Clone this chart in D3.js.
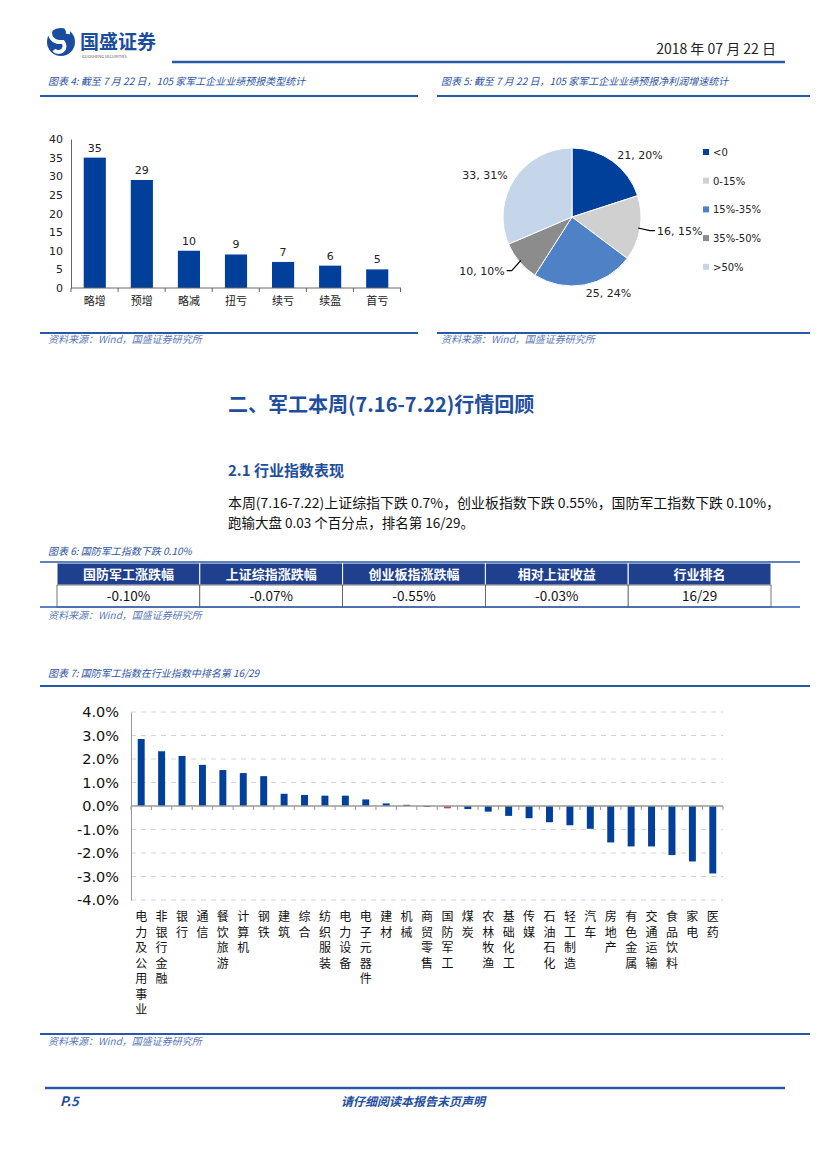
<!DOCTYPE html>
<html>
<head>
<meta charset="utf-8">
<script src="https://cdn.jsdelivr.net/npm/d3@7"></script>
<style>
body { margin: 0; background: #fff; }
text { font-family: "Noto Sans CJK SC", "DejaVu Sans", sans-serif; }
.cap { font-size: 10px; fill: #2d55a5; font-style: italic; }
.src { font-size: 10px; fill: #5a78b8; font-style: italic; }
.num { font-family: "DejaVu Sans", sans-serif; }
</style>
</head>
<body>
<div id="container"></div>
<script>
// chart 4: forecast types
var typeCats = ["略增", "预增", "略减", "扭亏", "续亏", "续盈", "首亏"];
var typeCounts = [35, 29, 10, 9, 7, 6, 5];
var typeTicks = [0, 5, 10, 15, 20, 25, 30, 35, 40];

// chart 5: profit growth buckets
var growthCats = ["<0", "0-15%", "15%-35%", "35%-50%", ">50%"];
var growthCounts = [21, 16, 25, 10, 33];
var growthPct = ["20%", "15%", "24%", "10%", "31%"];
var growthColors = ["#003f9a", "#d0d0d0", "#4f81c7", "#8c8c8c", "#c5d5ea"];

// chart 6: table
var tableHead = ["国防军工涨跌幅", "上证综指涨跌幅", "创业板指涨跌幅", "相对上证收益", "行业排名"];
var tableVals = ["-0.10%", "-0.07%", "-0.55%", "-0.03%", "16/29"];

// chart 7: industry index change (%)
var industries = ["电力及公用事业", "非银行金融", "银行", "通信", "餐饮旅游", "计算机", "钢铁", "建筑", "综合",
  "纺织服装", "电力设备", "电子元器件", "建材", "机械", "商贸零售", "国防军工", "煤炭", "农林牧渔", "基础化工",
  "传媒", "石油石化", "轻工制造", "汽车", "房地产", "有色金属", "交通运输", "食品饮料", "家电", "医药"];
var industryChg = [2.85, 2.33, 2.13, 1.75, 1.53, 1.40, 1.27, 0.52, 0.47, 0.44, 0.44, 0.28, 0.11, 0.05, -0.04,
  -0.10, -0.13, -0.24, -0.42, -0.52, -0.69, -0.82, -0.97, -1.55, -1.72, -1.72, -2.09, -2.36, -2.87];
var chgTicks = [-4, -3, -2, -1, 0, 1, 2, 3, 4];

var blue = "#003f9a";
var lineBlue = "#2a58a8";

const svg = d3.select("#container")
              .append("svg")
              .attr("width", 827)
              .attr("height", 1169);

// ---------- header ----------
var logo = svg.append("g").attr("transform", "translate(61,42)");
logo.append("circle").attr("r", 14).attr("fill", "#1b4d9f");
logo.append("path")
    .attr("d", "M7,-8 A9,9 0 1 0 -2,0 L2,0 A5,5 0 1 1 -7,8")
    .attr("fill", "none").attr("stroke", "#fff").attr("stroke-width", 4);
svg.append("text").attr("x", 80).attr("y", 49)
   .style("font-size", "19px").style("font-weight", "bold").attr("fill", "#1b4d9f")
   .text("国盛证券");
svg.append("text").attr("x", 82).attr("y", 58)
   .style("font-size", "4px").attr("fill", "#555")
   .text("GUOSHENG SECURITIES");
svg.append("text").attr("x", 776).attr("y", 54).attr("text-anchor", "end")
   .style("font-size", "14px").attr("fill", "#222")
   .text("2018 年 07 月 22 日");
svg.append("line").attr("x1", 172).attr("x2", 785).attr("y1", 62).attr("y2", 62)
   .attr("stroke", lineBlue).attr("stroke-width", 2.5);

// captions and rules
function caption(x, y, t) {
    svg.append("text").attr("class", "cap").attr("x", x).attr("y", y).text(t);
}
function rule(x1, x2, y, w) {
    svg.append("line").attr("x1", x1).attr("x2", x2).attr("y1", y).attr("y2", y)
       .attr("stroke", lineBlue).attr("stroke-width", w || 2);
}
function source(x, y) {
    svg.append("text").attr("class", "src").attr("x", x).attr("y", y).text("资料来源：Wind，国盛证券研究所");
}

caption(48, 85, "图表 4:  截至 7 月 22 日，105 家军工企业业绩预报类型统计");
caption(441, 85, "图表 5:  截至 7 月 22 日，105 家军工企业业绩预报净利润增速统计");
rule(40, 418, 96);
rule(437, 810, 96);
rule(40, 418, 333);
rule(437, 810, 333);
source(48, 343);
source(441, 343);

// ---------- chart 4: bar chart ----------
var x1 = d3.scaleBand().domain(typeCats).range([71, 401]).paddingInner(0.53).paddingOuter(0.27);
var y1 = d3.scaleLinear().domain([0, 40]).range([288, 139]);

var g1 = svg.append("g");
g1.append("g")
  .attr("transform", "translate(71,0)")
  .call(d3.axisLeft(y1).tickValues(typeTicks).tickSize(0).tickPadding(8))
  .call(g => g.select(".domain").attr("stroke", "#666"))
  .call(g => g.selectAll("text").attr("class", "num").style("font-size", "11px").attr("fill", "#222"));

g1.selectAll("rect.b1")
  .data(typeCounts)
  .enter()
  .append("rect")
  .attr("class", "b1")
  .attr("x", (d, i) => x1(typeCats[i]))
  .attr("y", d => y1(d))
  .attr("width", x1.bandwidth())
  .attr("height", d => y1(0) - y1(d))
  .attr("fill", blue);

g1.selectAll("text.v1")
  .data(typeCounts)
  .enter()
  .append("text")
  .attr("class", "num")
  .attr("x", (d, i) => x1(typeCats[i]) + x1.bandwidth() / 2)
  .attr("y", d => y1(d) - 6)
  .attr("text-anchor", "middle")
  .style("font-size", "11px")
  .attr("fill", "#222")
  .text(d => d);

g1.append("line").attr("x1", 71).attr("x2", 401).attr("y1", y1(0)).attr("y2", y1(0)).attr("stroke", "#666");
g1.selectAll("line.t1")
  .data(d3.range(typeCats.length + 1))
  .enter()
  .append("line")
  .attr("x1", i => 71 + i * x1.step())
  .attr("x2", i => 71 + i * x1.step())
  .attr("y1", y1(0)).attr("y2", y1(0) + 4)
  .attr("stroke", "#666");

g1.selectAll("text.c1")
  .data(typeCats)
  .enter()
  .append("text")
  .attr("x", d => x1(d) + x1.bandwidth() / 2)
  .attr("y", 305)
  .attr("text-anchor", "middle")
  .style("font-size", "11px")
  .attr("fill", "#222")
  .text(d => d);

// ---------- chart 5: pie ----------
var cx = 572, cy = 217, r = 69;
var pie = d3.pie().sort(null).value(d => d);
var arcs = pie(growthCounts);
var arc = d3.arc().innerRadius(0).outerRadius(r);
var g2 = svg.append("g").attr("transform", "translate(" + cx + "," + cy + ")");

g2.selectAll("path")
  .data(arcs)
  .enter()
  .append("path")
  .attr("d", arc)
  .attr("fill", (d, i) => growthColors[i])
  .attr("stroke", "#fff")
  .attr("stroke-width", 1);

arcs.forEach(function (a, i) {
    var mid = (a.startAngle + a.endAngle) / 2;
    var sx = Math.sin(mid), sy = -Math.cos(mid);
    var right = sx > 0;
    var lr = r + 8;
    var tx = lr * sx, ty = lr * sy;
    if (growthCounts[i] <= 16) {
        // leader line with elbow
        var ex = (r + 10) * sx, ey = (r + 14) * sy;
        var hx = ex + (right ? 5 : -5);
        g2.append("path")
          .attr("d", "M" + (r - 2) * sx + "," + (r - 2) * sy + " L" + ex + "," + ey + " L" + hx + "," + ey)
          .attr("fill", "none").attr("stroke", "#000").attr("stroke-width", 1.2);
        tx = hx + (right ? 2 : -2);
        ty = ey;
    }
    g2.append("text")
      .attr("class", "num")
      .attr("x", tx)
      .attr("y", ty + 4)
      .attr("text-anchor", right ? "start" : "end")
      .style("font-size", "11px")
      .attr("fill", "#222")
      .text(growthCounts[i] + ", " + growthPct[i]);
});

var leg = svg.append("g");
growthCats.forEach(function (c, i) {
    leg.append("rect").attr("x", 703).attr("y", 149 + i * 28.7).attr("width", 6).attr("height", 6)
       .attr("fill", growthColors[i]);
    leg.append("text").attr("class", "num").attr("x", 713).attr("y", 156 + i * 28.7)
       .style("font-size", "10px").attr("fill", "#222").text(c);
});

// ---------- section text ----------
svg.append("text").attr("x", 228).attr("y", 412)
   .style("font-size", "20px").style("font-weight", "bold").attr("fill", "#1f4e9c")
   .text("二、军工本周(7.16-7.22)行情回顾");
svg.append("text").attr("x", 228).attr("y", 476)
   .style("font-size", "15px").style("font-weight", "bold").attr("fill", "#1f4e9c")
   .text("2.1  行业指数表现");
svg.append("text").attr("x", 228).attr("y", 508)
   .style("font-size", "13.5px").attr("fill", "#111")
   .attr("textLength", 552).attr("lengthAdjust", "spacingAndGlyphs")
   .text("本周(7.16-7.22)上证综指下跌 0.7%，创业板指数下跌 0.55%，国防军工指数下跌 0.10%，");
svg.append("text").attr("x", 228).attr("y", 528)
   .style("font-size", "13.5px").attr("fill", "#111")
   .text("跑输大盘 0.03 个百分点，排名第 16/29。");

// ---------- chart 6: table ----------
caption(48, 555, "图表 6:  国防军工指数下跌 0.10%");
var colX = d3.scaleLinear().domain([0, tableHead.length]).range([57, 771]);
var g3 = svg.append("g");
g3.selectAll("rect.h")
  .data(tableHead)
  .enter()
  .append("rect")
  .attr("x", (d, i) => colX(i))
  .attr("y", 563)
  .attr("width", colX(1) - colX(0))
  .attr("height", 22)
  .attr("fill", "#1f3f8f")
  .attr("stroke", "#fff")
  .attr("stroke-width", 1);
g3.selectAll("text.h")
  .data(tableHead)
  .enter()
  .append("text")
  .attr("x", (d, i) => colX(i + 0.5))
  .attr("y", 579)
  .attr("text-anchor", "middle")
  .style("font-size", "13px").style("font-weight", "bold")
  .attr("fill", "#fff")
  .text(d => d);
g3.selectAll("rect.v")
  .data(tableVals)
  .enter()
  .append("rect")
  .attr("x", (d, i) => colX(i))
  .attr("y", 585)
  .attr("width", colX(1) - colX(0))
  .attr("height", 22)
  .attr("fill", "#fff")
  .attr("stroke", "#555")
  .attr("stroke-width", 0.8);
g3.selectAll("text.v")
  .data(tableVals)
  .enter()
  .append("text")
  .attr("x", (d, i) => colX(i + 0.5))
  .attr("y", 601)
  .attr("text-anchor", "middle")
  .style("font-size", "13.5px")
  .attr("fill", "#111")
  .text(d => d);
rule(40, 800, 562, 1.5);
rule(40, 800, 607, 1.5);
source(48, 619);

// ---------- chart 7: industries ----------
caption(48, 677, "图表 7:  国防军工指数在行业指数中排名第 16/29");
rule(40, 810, 686);

var x7 = d3.scaleBand().domain(industries).range([131, 723]).paddingInner(0.66).paddingOuter(0.33);
var y7 = d3.scaleLinear().domain([-4, 4]).range([900, 712]);
var g7 = svg.append("g");

g7.selectAll("line.grid")
  .data(chgTicks.filter(d => d !== 0))
  .enter()
  .append("line")
  .attr("x1", 131).attr("x2", 723)
  .attr("y1", d => y7(d)).attr("y2", d => y7(d))
  .attr("stroke", "#d4d4d4").attr("stroke-dasharray", "5,5").attr("stroke-width", 1);

g7.append("g")
  .attr("transform", "translate(131,0)")
  .call(d3.axisLeft(y7).tickValues(chgTicks).tickFormat(d => d.toFixed(1) + "%").tickSize(0).tickPadding(12))
  .call(g => g.select(".domain").attr("stroke", "#999"))
  .call(g => g.selectAll("text").attr("class", "num").style("font-size", "14.5px").attr("fill", "#111"));

g7.selectAll("rect.b7")
  .data(industryChg)
  .enter()
  .append("rect")
  .attr("x", (d, i) => x7(industries[i]))
  .attr("y", d => y7(Math.max(0, d)))
  .attr("width", x7.bandwidth())
  .attr("height", d => Math.abs(y7(d) - y7(0)))
  .attr("fill", (d, i) => industries[i] === "国防军工" ? "#c0504d" : blue);

g7.append("line").attr("x1", 131).attr("x2", 723).attr("y1", y7(0)).attr("y2", y7(0))
  .attr("stroke", "#999").attr("stroke-width", 1.5);
var step7 = x7.step();
g7.selectAll("line.t7")
  .data(d3.range(industries.length + 1))
  .enter()
  .append("line")
  .attr("x1", i => 131 + i * step7)
  .attr("x2", i => 131 + i * step7)
  .attr("y1", y7(0)).attr("y2", y7(0) + 4)
  .attr("stroke", "#999");

// vertical category labels, one character per line
industries.forEach(function (name) {
    var cxi = x7(name) + x7.bandwidth() / 2;
    var t = g7.append("text")
              .attr("text-anchor", "middle")
              .style("font-size", "12px")
              .attr("fill", "#111");
    name.split("").forEach(function (ch, k) {
        t.append("tspan").attr("x", cxi).attr("y", 921 + k * 15.5).text(ch);
    });
});

rule(40, 810, 1034);
source(48, 1045);

// ---------- footer ----------
rule(45, 785, 1088, 2.5);
svg.append("text").attr("x", 60).attr("y", 1106)
   .style("font-size", "13px").style("font-weight", "bold").style("font-style", "italic").attr("fill", "#1f4e9c")
   .text("P.5");
svg.append("text").attr("x", 413).attr("y", 1106).attr("text-anchor", "middle")
   .style("font-size", "12px").style("font-weight", "bold").style("font-style", "italic").attr("fill", "#1f4e9c")
   .text("请仔细阅读本报告末页声明");
</script>
</body>
</html>
